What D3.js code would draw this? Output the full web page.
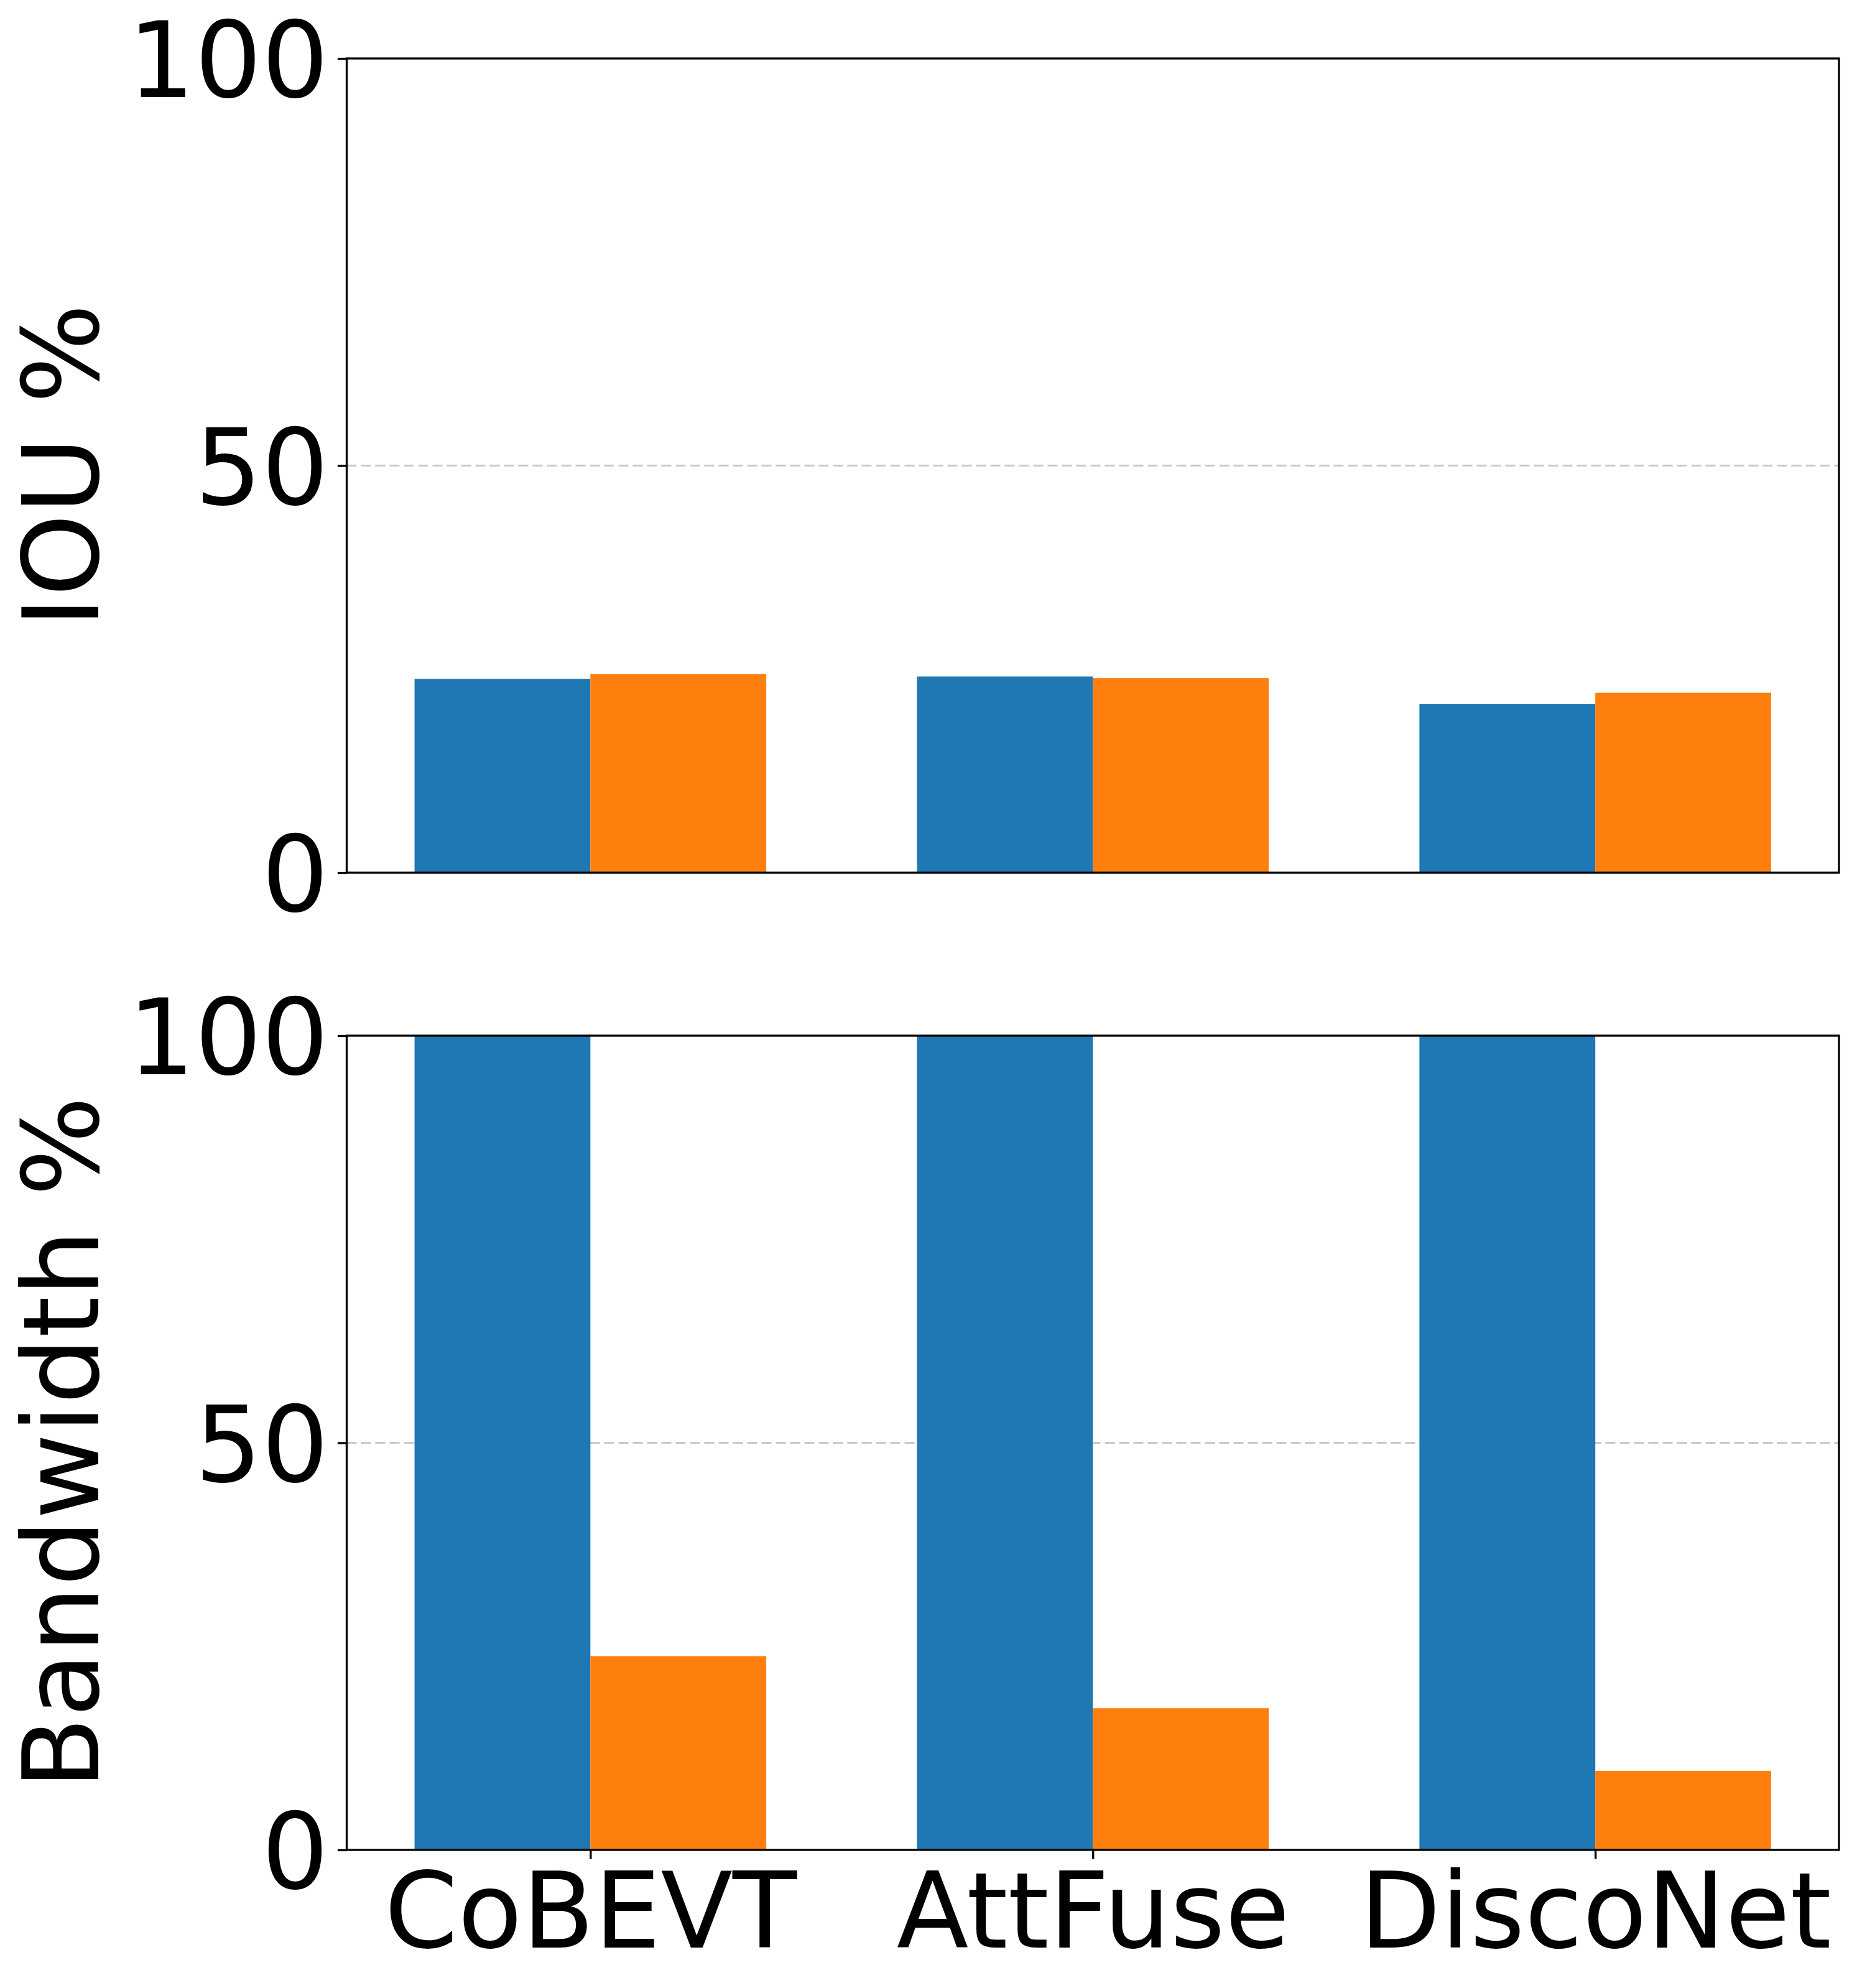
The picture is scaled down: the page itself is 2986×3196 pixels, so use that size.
<!DOCTYPE html>
<html>
<head>
<meta charset="utf-8">
<script src="https://cdn.jsdelivr.net/npm/d3@7"></script>
<style>
  body { margin: 0; background: #fff; }
  text { font-family: "DejaVu Sans", sans-serif; }
</style>
</head>
<body>
<div id="chart"></div>
<script>
// data
const categories = ["CoBEVT", "AttFuse", "DiscoNet"];
const iouBlue = [23.8, 24.1, 20.7];
const iouOrange = [24.4, 23.9, 22.1];
const bwBlue = [100, 100, 100];
const bwOrange = [23.8, 17.4, 9.7];
const yTicks = [0, 50, 100];

const W = 2986, H = 3196;
const fontSize = 169;
const tickLen = 14.6, tickPad = 14.6;
const barWidth = 0.35;
const colors = ["#1f77b4", "#ff7f0e"];

const svg = d3.select("#chart").append("svg")
  .attr("width", W)
  .attr("height", H);

const x = d3.scaleLinear()
  .domain([-0.485, 2.485])
  .range([557.5, 2957]);

const panels = [
  { label: "IOU %", top: 94, bottom: 1403, series: [iouBlue, iouOrange], xLabels: false },
  { label: "Bandwidth %", top: 1665, bottom: 2974, series: [bwBlue, bwOrange], xLabels: true }
];

panels.forEach((p) => {
  const y = d3.scaleLinear().domain([0, 100]).range([p.bottom, p.top]);
  const g = svg.append("g");

  // grid line (dashed)
  g.append("g")
    .selectAll("line")
    .data(yTicks.filter((d) => d > 0 && d < 100))
    .enter()
    .append("line")
    .attr("x1", x.range()[0])
    .attr("x2", x.range()[1])
    .attr("y1", (d) => y(d))
    .attr("y2", (d) => y(d))
    .attr("stroke", "#c8c8c8")
    .attr("stroke-width", 3)
    .attr("stroke-dasharray", "16,7");

  // bars
  p.series.forEach((vals, s) => {
    g.append("g")
      .selectAll("rect")
      .data(vals)
      .enter()
      .append("rect")
      .attr("x", (d, i) => x(i + (s === 0 ? -barWidth : 0)))
      .attr("width", x(barWidth) - x(0))
      .attr("y", (d) => y(d))
      .attr("height", (d) => y(0) - y(d))
      .attr("fill", colors[s]);
  });

  // y axis
  const yAxis = g.append("g")
    .attr("transform", `translate(${x.range()[0]},0)`)
    .call(d3.axisLeft(y).tickValues(yTicks).tickSize(tickLen).tickPadding(tickPad).tickSizeOuter(0));
  yAxis.select(".domain").remove();
  yAxis.selectAll("line").attr("stroke-width", 3.3);
  yAxis.selectAll("text")
    .attr("font-size", fontSize)
    .attr("fill", "#000")
    .attr("dy", "0.365em");

  // x axis on the lower panel
  if (p.xLabels) {
    const xAxis = g.append("g")
      .attr("transform", `translate(0,${p.bottom})`)
      .call(d3.axisBottom(x).tickValues([0, 1, 2]).tickFormat((d) => categories[d]).tickSize(tickLen).tickSizeOuter(0));
    xAxis.select(".domain").remove();
    xAxis.selectAll("line").attr("stroke-width", 3.3);
    xAxis.selectAll("text")
      .attr("font-size", fontSize)
      .attr("fill", "#000")
      .attr("y", 157)
      .attr("dy", 0);
  }

  // frame
  g.append("rect")
    .attr("x", x.range()[0])
    .attr("y", p.top)
    .attr("width", x.range()[1] - x.range()[0])
    .attr("height", p.bottom - p.top)
    .attr("fill", "none")
    .attr("stroke", "#000")
    .attr("stroke-width", 3.3);

  // y label
  g.append("text")
    .attr("transform", `translate(158,${(p.top + p.bottom) / 2}) rotate(-90)`)
    .attr("text-anchor", "middle")
    .attr("font-size", fontSize)
    .text(p.label);
});
</script>
</body>
</html>
